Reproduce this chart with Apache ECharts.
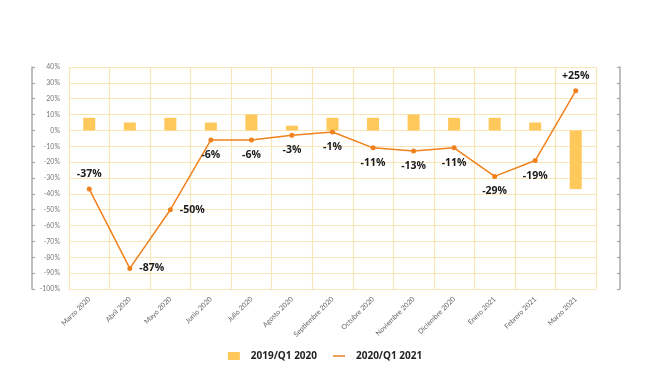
<!DOCTYPE html>
<html><head><meta charset="utf-8">
<script src="https://cdn.jsdelivr.net/npm/echarts@6/dist/echarts.min.js"></script>
<style>html,body{margin:0;padding:0;background:#fff}#c{width:650px;height:380px}</style>
</head><body><div id="c"></div>
<script>
var categories = ['Marzo 2020','Abril 2020','Mayo 2020','Junio 2020','Julio 2020','Agosto 2020','Septiembre 2020','Octubre 2020','Noviembre 2020','Diciembre 2020','Enero 2021','Febrero 2021','Marzo 2021'];
var barValues = [8, 5, 8, 5, 10, 3, 8, 8, 10, 8, 8, 5, -37];
var lineValues = [-37, -87, -50, -6, -6, -3, -1, -11, -13, -11, -29, -19, 25];
var labelPositions = ['top','right','right','bottom','bottom','bottom','bottom','bottom','bottom','bottom','bottom','bottom','top'];
var seriesNames = ['2019/Q1 2020', '2020/Q1 2021'];

var chart = echarts.init(document.getElementById('c'));
var gridColor = '#fae5b8';
var frameAxis = function(pos, offset){
  return {type:'value', position:pos, offset:offset, min:-100, max:40, interval:10,
    axisLine:{show:true, lineStyle:{color:'#a8a8a8', width:1.5}},
    axisTick:{show:true, inside:true, length:3, lineStyle:{color:'#a8a8a8', width:1.2}},
    axisLabel:{show:false}, splitLine:{show:false}};
};
chart.setOption({
  animation:false,
  textStyle:{fontFamily:'Lato'},
  grid:{left:69, right:54, top:67, bottom:91, containLabel:false},
  legend:{bottom:14, left:'center', itemGap:15, itemWidth:12, itemHeight:8,
    textStyle:{fontFamily:'Open Sans', fontWeight:'bold', fontSize:10, color:'#222', padding:[0,0,0,6]},
    data:[{name:seriesNames[0], icon:'rect'},
          {name:seriesNames[1], itemStyle:{opacity:0}, lineStyle:{color:'#eaa05a', width:2}}]},
  xAxis:{type:'category', data:categories, boundaryGap:true,
    axisLine:{show:false}, axisTick:{show:false},
    splitLine:{show:true, lineStyle:{color:gridColor, width:1.2}},
    axisLabel:{rotate:45, fontSize:7, color:'#666', margin:9, interval:0}},
  yAxis:[
    {type:'value', min:-100, max:40, interval:10,
     axisLine:{show:false}, axisTick:{show:false},
     axisLabel:{formatter:'{value}%', fontSize:7, color:'#777', margin:9},
     splitLine:{show:true, lineStyle:{color:gridColor, width:1.2}}},
    frameAxis('left', 37),
    frameAxis('right', 24)
  ],
  series:[
    {name:seriesNames[0], type:'bar', yAxisIndex:0, data:barValues, barWidth:12,
     itemStyle:{color:'#fec85a'}},
    {name:seriesNames[1], type:'line', yAxisIndex:0, symbol:'circle', symbolSize:5,
     lineStyle:{color:'#f0811c', width:1.5}, itemStyle:{color:'#f0811c'},
     data: lineValues.map(function(v,i){
       return {value:v, label:{position:labelPositions[i]}};
     }),
     label:{show:true, distance:7, fontFamily:'Open Sans', fontWeight:'bold', fontSize:10.5, color:'#1a1a1a',
       formatter:function(p){ return (p.value>0?'+':'') + p.value + '%'; }}}
  ]
});
</script></body></html>
